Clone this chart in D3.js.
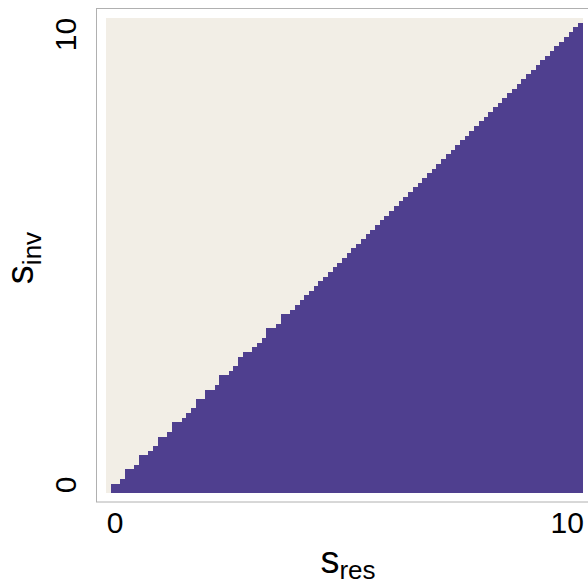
<!DOCTYPE html>
<html>
<head>
<meta charset="utf-8">
<script src="https://cdn.jsdelivr.net/npm/d3@7"></script>
<style>
  html, body { margin: 0; padding: 0; background: #ffffff; }
  svg { display: block; }
</style>
</head>
<body>
<svg id="chart" width="588" height="587"></svg>
<script>
// ---- data ----
// grid of resident / invader trait values (0 to 10, step 0.1)
const sRes = [0,0.1,0.2,0.3,0.4,0.5,0.6,0.7,0.8,0.9,1,1.1,1.2,1.3,1.4,1.5,1.6,1.7,1.8,1.9,2,2.1,2.2,2.3,2.4,2.5,2.6,2.7,2.8,2.9,3,3.1,3.2,3.3,3.4,3.5,3.6,3.7,3.8,3.9,4,4.1,4.2,4.3,4.4,4.5,4.6,4.7,4.8,4.9,5,5.1,5.2,5.3,5.4,5.5,5.6,5.7,5.8,5.9,6,6.1,6.2,6.3,6.4,6.5,6.6,6.7,6.8,6.9,7,7.1,7.2,7.3,7.4,7.5,7.6,7.7,7.8,7.9,8,8.1,8.2,8.3,8.4,8.5,8.6,8.7,8.8,8.9,9,9.1,9.2,9.3,9.4,9.5,9.6,9.7,9.8,9.9,10];
const sInv = sRes.slice();
// number of invader values (from the bottom) that can invade each resident column
const invadeCount = [0,2,2,3,5,5,6,8,8,9,10,12,12,13,15,15,16,17,18,20,20,22,22,23,25,25,26,27,29,30,30,31,32,33,35,35,36,38,38,39,40,41,42,43,44,45,46,47,48,49,50,51,52,53,54,55,56,57,58,59,60,61,62,63,64,65,66,67,68,69,70,71,72,73,74,75,76,77,78,79,80,81,82,83,84,85,86,87,88,89,90,91,92,93,94,95,96,97,98,99,100];
const xTicks = [0, 10];
const yTicks = [0, 10];
const outcomeColors = { invade: "#4f3f8f", noInvade: "#f2eee6" };

// ---- layout ----
const svg = d3.select("#chart");
const tileLeft = 106, tileRight = 582.7, tileTop = 18, tileBottom = 493;
const n = sRes.length;
const cw = (tileRight - tileLeft) / n;
const ch = (tileBottom - tileTop) / n;

const x = d3.scaleLinear().domain([0, 10]).range([tileLeft + cw / 2, tileRight - cw / 2]);
const y = d3.scaleLinear().domain([0, 10]).range([tileBottom - ch / 2, tileTop + ch / 2]);

// panel
svg.append("rect")
  .attr("x", 96.5).attr("y", 8.5)
  .attr("width", 520).attr("height", 493.5)
  .attr("fill", "#ffffff")
  .attr("stroke", "#b0b0b0").attr("stroke-width", 1);

// cells
const cells = [];
sRes.forEach((r, i) => {
  sInv.forEach((v, j) => {
    cells.push({ r, v, invade: j < invadeCount[i] });
  });
});

svg.append("g")
  .attr("shape-rendering", "crispEdges")
  .selectAll("rect")
  .data(cells)
  .join("rect")
  .attr("x", d => x(d.r) - cw / 2)
  .attr("y", d => y(d.v) - ch / 2)
  .attr("width", cw + 0.01)
  .attr("height", ch + 0.01)
  .attr("fill", d => d.invade ? outcomeColors.invade : outcomeColors.noInvade);

const font = "'Liberation Sans', Arial, Helvetica, sans-serif";

// x axis
const xAxis = d3.axisBottom(x).tickValues(xTicks).tickSize(0).tickPadding(0).tickFormat(d3.format("d"));
const gx = svg.append("g").attr("transform", "translate(0,533)").call(xAxis);
gx.select(".domain").remove();
gx.selectAll("text")
  .attr("y", 0).attr("dy", 0)
  .attr("font-family", font).attr("font-size", 30).attr("fill", "#000")
  .attr("text-anchor", (d, i) => i === 0 ? "start" : "end")
  .attr("dx", (d, i) => i === 0 ? -2 : 3);

// y axis
const yAxis = d3.axisLeft(y).tickValues(yTicks).tickSize(0).tickPadding(0).tickFormat(d3.format("d"));
const gy = svg.append("g").attr("transform", "translate(76,0)").call(yAxis);
gy.select(".domain").remove();
gy.selectAll(".tick").each(function(d, i) {
  const t = d3.select(this).select("text");
  t.attr("x", 0).attr("y", 0).attr("dy", 0)
   .attr("transform", "rotate(-90)")
   .attr("font-family", font).attr("font-size", 30).attr("fill", "#000")
   .attr("text-anchor", i === 0 ? "start" : "end")
   .attr("dx", i === 0 ? -2 : 3);
});

// axis titles
const xt = svg.append("text")
  .attr("x", 348).attr("y", 573)
  .attr("text-anchor", "middle")
  .attr("font-family", font).attr("font-size", 38).attr("fill", "#000");
xt.append("tspan").text("s");
xt.append("tspan").attr("font-size", 26).attr("dy", 6).text("res");

const yt = svg.append("text")
  .attr("transform", "translate(33,258) rotate(-90)")
  .attr("text-anchor", "middle")
  .attr("font-family", font).attr("font-size", 38).attr("fill", "#000");
yt.append("tspan").text("s");
yt.append("tspan").attr("font-size", 26).attr("dy", 8).text("inv");
</script>
</body>
</html>
